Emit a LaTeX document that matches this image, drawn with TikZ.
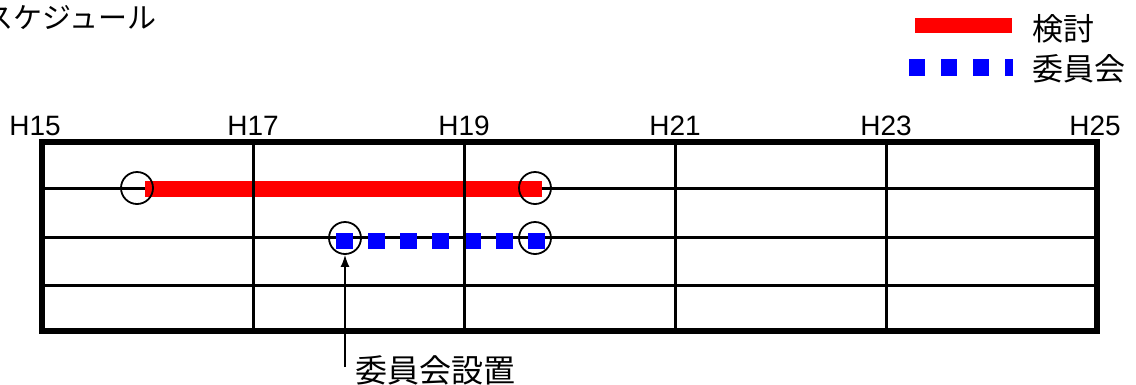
\documentclass[tikz,border=0pt]{standalone}
\usepackage{fontspec}
\setmainfont{Liberation Sans}
\newfontfamily\jpfont{Noto Sans CJK JP}
\usepackage{tikz}
\usetikzlibrary{positioning}
\usetikzlibrary{arrows.meta}

\begin{document}
\begin{tikzpicture}[x=1pt,y=-1pt,
  gridline/.style={line width=3pt},
  frame/.style={line width=6pt},
  kentou/.style={red,line width=16pt},
  iinkai/.style={blue,line width=16pt,dash pattern=on 17pt off 15pt},
  ring/.style={circle,draw,line width=1.8pt,minimum size=32pt,inner sep=0pt},
  year/.style={font=\fontsize{28}{28}\selectfont,anchor=base,inner sep=0pt},
  jp/.style={font=\jpfont\fontsize{#1}{#1}\selectfont,anchor=base west,inner sep=0pt}]
\useasboundingbox (0,0) rectangle (1136,384);

\node[jp=29] (title) at (-15.5,28) {スケジュール};

% legend
\begin{scope}[xshift=0pt]
\coordinate (lk1) at (915,25);
\coordinate (lk2) at (1012,25);
\coordinate (li1) at (909,67);
\coordinate (li2) at (1013,67);
\draw[red,line width=15pt] (lk1) -- (lk2);
\draw[blue,line width=17pt,dash pattern=on 16pt off 16pt] (li1) -- (li2);
\node[jp=31] (lkentou) at (1032,40) {検討};
\node[jp=31] (liinkai) at (1032,80) {委員会};
\end{scope}

% years
\foreach \x/\t in {35/H15,253/H17,464/H19,675/H21,886/H23,1095/H25}
  \node[year] (y\t) at (\x,135) {\t};

% table
\foreach \y in {188,237,285}
  \draw[gridline] (42,\y) -- (1097,\y);

\coordinate (k1) at (145,189);
\coordinate (k2) at (542,189);
\coordinate (i1) at (336,241);
\coordinate (i2) at (545,241);
\draw[kentou] (k1) -- (k2);
\draw[iinkai] (i1) -- (i2);

\foreach \x in {253,464,675,886}
  \draw[gridline] (\x,142) -- (\x,331);
\draw[frame] (42,142) rectangle (1097,331);

\node[ring] (kstart) at (137,188) {};
\node[ring] (kend) at (535,188) {};
\node[ring] (istart) at (345,238) {};
\node[ring] (iend) at (535,238) {};

\node[jp=32] (setchi) at (355,382) {委員会設置};
\coordinate (foot) at (345,367);
\draw[line width=1.5pt,-{Latex[length=12pt,width=9pt]}] (foot) -- (istart.south);

\end{tikzpicture}
\end{document}
